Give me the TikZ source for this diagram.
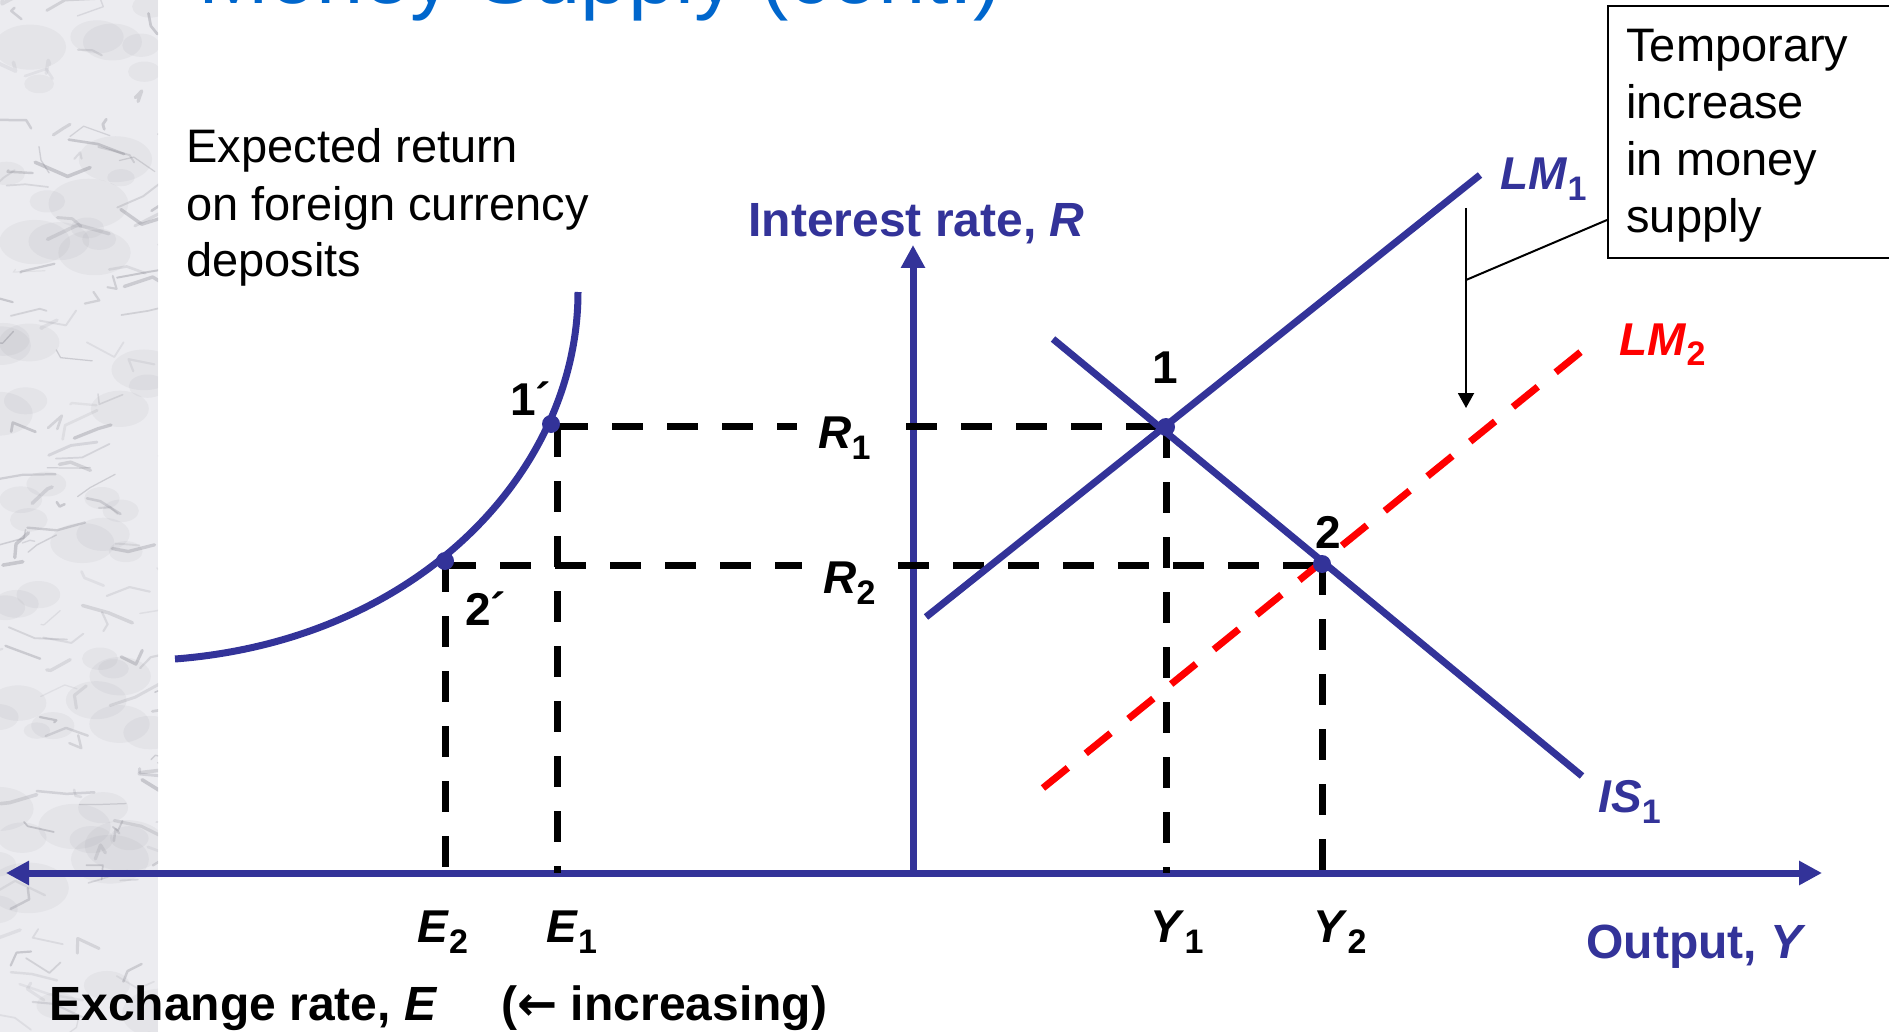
\documentclass[tikz,border=0pt]{standalone}
\usepackage{fontspec}
\setmainfont{Liberation Sans}
\newfontfamily\arrowfont{DejaVu Sans}
\usetikzlibrary{arrows.meta}
\definecolor{axblue}{RGB}{51,51,153}
\definecolor{titleblue}{RGB}{0,102,204}
\definecolor{marble}{RGB}{236,236,240}
\definecolor{veincol}{RGB}{125,125,135}
\newcommand\lbl[2]{\textbf{\textit{#1}}\raisebox{-5.5pt}{\fontsize{17}{17}\selectfont\textbf{#2}}}
\begin{document}
\begin{tikzpicture}[x=0.5pt,y=-0.5pt,
  curve/.style={axblue, line width=3.5pt},
  axisline/.style={axblue, line width=3.5pt},
  guide/.style={black, line width=3.5pt, dash pattern=on 15.5pt off 12pt},
  shiftline/.style={red, line width=3.5pt, dash pattern=on 16pt off 11.5pt},
  dot/.style={circle, fill=axblue, inner sep=0pt, minimum size=9pt},
  reg/.style={font=\fontsize{23.5}{28.5}\selectfont, inner sep=0pt},
  boldlab/.style={font=\fontsize{23}{28}\selectfont\bfseries, inner sep=0pt},
  axtitle/.style={font=\fontsize{24}{28}\selectfont\bfseries, inner sep=0pt},
]
\useasboundingbox (0,0) rectangle (1889,1032);
\clip (0,0) rectangle (1889,1032);

% marble strip
\begin{scope}
\clip (0,0) rectangle (158,1032);
\fill[marble] (0,0) rectangle (158,1032);
\pgfmathsetseed{11}
\foreach \i in {1,...,60}{
  \pgfmathsetmacro\xa{rnd*170-5}
  \pgfmathsetmacro\ya{rnd*1040}
  \pgfmathsetmacro\rr{8+rnd*18}
  \fill[veincol, opacity=0.07] (\xa,\ya) ellipse ({\rr*1.6} and \rr);
}
\foreach \i in {1,...,140}{
  \pgfmathsetmacro\xa{rnd*180-15}
  \pgfmathsetmacro\ya{rnd*1050-10}
  \pgfmathsetmacro\dxa{rnd*40-6}
  \pgfmathsetmacro\dya{rnd*30-15}
  \pgfmathsetmacro\dxb{rnd*40-6}
  \pgfmathsetmacro\dyb{rnd*30-15}
  \pgfmathsetmacro\op{0.10+rnd*0.25}
  \pgfmathsetmacro\lw{0.6+rnd*1.2}
  \draw[veincol, line width=\lw pt, opacity=\op, line join=round, line cap=round]
    (\xa,\ya) -- ++(\dxa,\dya) -- ++(\dxb,\dyb);
}
\end{scope}

% title (cut off at the top)
\node (title) [anchor=base west, inner sep=0pt, text=titleblue,
  font=\fontsize{42.5}{50}\selectfont] at (198,4) {Money Supply (cont.)};

% axes
\coordinate (O) at (913,873);
\coordinate (xr) at (1822,873);
\coordinate (xl) at (6,873);
\coordinate (yt) at (913,245);
\draw[axisline, {Triangle[length=11.5pt,width=11.5pt]}-{Triangle[length=11.5pt,width=11.5pt]}] (xl) -- (xr);
\draw[axisline, -{Triangle[length=11.5pt,width=11.5pt]}] (O) -- (yt);

% points
\coordinate (q1) at (551,424);
\coordinate (q2) at (445,561);
\coordinate (p1c) at (1166,427);
\coordinate (p2c) at (1322,564);

% guide lines
\coordinate (r1a) at (557,426);
\coordinate (r1b) at (797,426);
\coordinate (r1c) at (906,426);
\coordinate (r1d) at (1166,426);
\coordinate (r2a) at (445,565);
\coordinate (r2b) at (802,565);
\coordinate (r2c) at (898,565);
\coordinate (r2d) at (1322,565);
\coordinate (e1t) at (557,426);
\coordinate (e1b) at (557,873);
\coordinate (e2t) at (445,561);
\coordinate (e2b) at (445,873);
\coordinate (y1t) at (1166,427);
\coordinate (y1b) at (1166,873);
\coordinate (y2t) at (1322,564);
\coordinate (y2b) at (1322,873);
\draw[guide] (r1a) -- (r1b);
\draw[guide] (r1c) -- (r1d);
\draw[guide] (r2a) -- (r2b);
\draw[guide] (r2c) -- (r2d);
\draw[guide] (e1t) -- (e1b);
\draw[guide] (e2t) -- (e2b);
\draw[guide] (y1t) -- (y1b);
\draw[guide] (y2t) -- (y2b);

% expected return curve
\coordinate (ca) at (175,659);
\coordinate (cb) at (578,292);
\draw[curve] (ca) .. controls (420,640) and (578,470) .. (cb);

% LM and IS curves
\coordinate (lm1a) at (926,617);
\coordinate (lm1b) at (1480,175);
\coordinate (is1a) at (1053,339);
\coordinate (is1b) at (1582,776);
\coordinate (lm2a) at (1043,788);
\coordinate (lm2b) at (1593,342);
\draw[curve] (lm1a) -- (lm1b);
\draw[curve] (is1a) -- (is1b);
\draw[shiftline] (lm2a) -- (lm2b);

% dots
\node (p1p) [dot] at (q1) {};
\node (p2p) [dot] at (q2) {};
\node (p1) [dot] at (p1c) {};
\node (p2) [dot] at (p2c) {};

% shift arrow and callout
\coordinate (arrtop) at (1466,208);
\coordinate (arrbot) at (1466,408);
\coordinate (callpt) at (1466,280);
\coordinate (boxpt) at (1607,220);
\draw[black, line width=1pt, -{Triangle[length=7.5pt,width=8pt]}] (arrtop) -- (arrbot);
\node (box) [draw, line width=1pt, anchor=north west, minimum width=170pt,
  minimum height=126pt, inner sep=0pt] at (1607,5) {};
\draw[black, line width=1pt] (callpt) -- (boxpt);
\node (boxtxt) [reg, anchor=base west] at (1626,62)
  {\begin{tabular}[t]{@{}l@{}}Temporary\\increase\\in money\\supply\end{tabular}};

% texts
\node (exptxt) [reg, anchor=base west] at (186,163)
  {\begin{tabular}[t]{@{}l@{}}Expected return\\on foreign currency\\deposits\end{tabular}};
\node (ytitle) [axtitle, anchor=base west, text=axblue] at (748,237) {Interest rate, \textit{R}};
\node (xtitle) [axtitle, anchor=base west, text=axblue] at (1586,958) {Output, \textit{Y}};
\node (etitle) [axtitle, anchor=base west] at (49,1020)
  {Exchange rate, \textit{E}\hspace{32pt}({\arrowfont\bfseries ←} increasing)};

\node (l1p) [boldlab, anchor=base west] at (510,415) {1´};
\node (l2p) [boldlab, anchor=base west] at (465,625) {2´};
\node (l1) [boldlab, anchor=base] at (1165,383) {1};
\node (l2) [boldlab, anchor=base] at (1328,548) {2};

\node (lr1) [boldlab, anchor=base west] at (818,448) {\lbl{R}{1}};
\node (lr2) [boldlab, anchor=base west] at (823,593) {\lbl{R}{2}};
\node (le2) [boldlab, anchor=base west] at (417,942) {\lbl{E}{2}};
\node (le1) [boldlab, anchor=base west] at (546,942) {\lbl{E}{1}};
\node (ly1) [boldlab, anchor=base west] at (1150,942) {\lbl{Y}{1}};
\node (ly2) [boldlab, anchor=base west] at (1313,942) {\lbl{Y}{2}};
\node (llm1) [boldlab, anchor=base west, text=axblue] at (1500,190) {\lbl{LM}{1}};
\node (llm2) [boldlab, anchor=base west, text=red] at (1619,355) {\lbl{LM}{2}};
\node (lis1) [boldlab, anchor=base west, text=axblue] at (1598,812) {\lbl{IS}{1}};
\end{tikzpicture}
\end{document}
